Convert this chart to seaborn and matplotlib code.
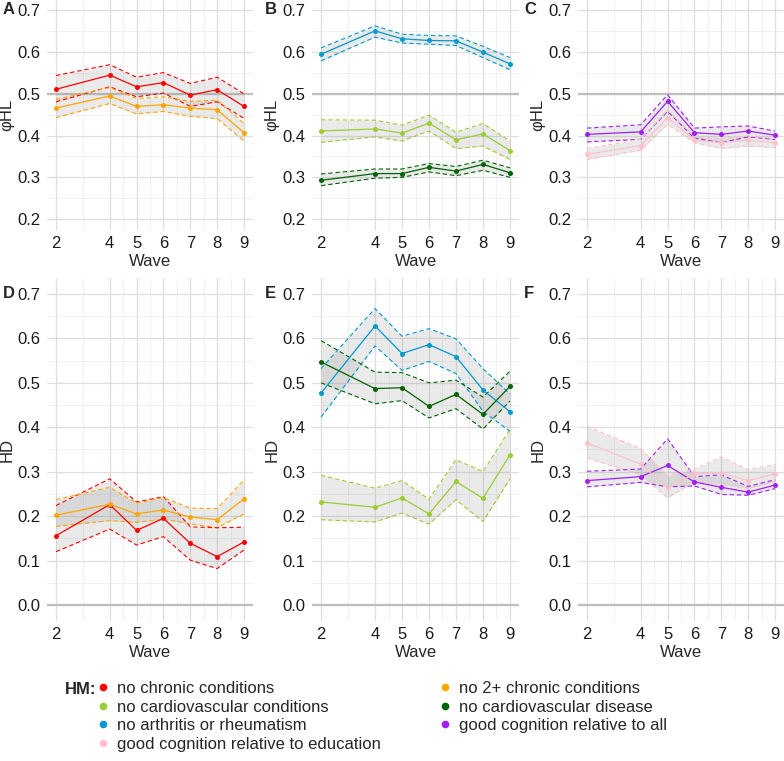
import matplotlib.pyplot as plt
from matplotlib.lines import Line2D
import pandas as pd
import seaborn as sns

waves = [2, 4, 5, 6, 7, 8, 9]

hm_names = [
    'no chronic conditions', 'no 2+ chronic conditions',
    'no cardiovascular conditions', 'no cardiovascular disease',
    'no arthritis or rheumatism', 'good cognition relative to all',
    'good cognition relative to education',
]
hm_colors = ['#FF0000', '#FFA500', '#9ACD32', '#006400', '#009ACD', '#A020F0', '#FFC0CB']

# phiHL (top row)
phi_nocc = [0.511, 0.545, 0.517, 0.527, 0.497, 0.510, 0.470]
phi_nocc_lo = [0.481, 0.517, 0.493, 0.502, 0.470, 0.481, 0.441]
phi_nocc_hi = [0.544, 0.570, 0.540, 0.551, 0.525, 0.540, 0.500]
phi_no2 = [0.466, 0.495, 0.470, 0.474, 0.466, 0.462, 0.407]
phi_no2_lo = [0.443, 0.477, 0.452, 0.458, 0.446, 0.441, 0.387]
phi_no2_hi = [0.487, 0.515, 0.489, 0.493, 0.482, 0.485, 0.429]
phi_arth = [0.595, 0.651, 0.632, 0.628, 0.627, 0.600, 0.572]
phi_arth_lo = [0.579, 0.636, 0.622, 0.619, 0.616, 0.587, 0.558]
phi_arth_hi = [0.610, 0.663, 0.643, 0.640, 0.639, 0.614, 0.587]
phi_cvc = [0.411, 0.416, 0.406, 0.430, 0.390, 0.404, 0.364]
phi_cvc_lo = [0.384, 0.397, 0.387, 0.411, 0.369, 0.375, 0.343]
phi_cvc_hi = [0.438, 0.437, 0.425, 0.449, 0.408, 0.429, 0.387]
phi_cvd = [0.293, 0.309, 0.309, 0.324, 0.315, 0.331, 0.311]
phi_cvd_lo = [0.280, 0.298, 0.300, 0.313, 0.304, 0.317, 0.300]
phi_cvd_hi = [0.308, 0.320, 0.320, 0.333, 0.326, 0.341, 0.323]
phi_cogall = [0.403, 0.409, 0.482, 0.407, 0.403, 0.411, 0.401]
phi_cogall_lo = [0.385, 0.391, 0.458, 0.394, 0.383, 0.397, 0.391]
phi_cogall_hi = [0.418, 0.426, 0.498, 0.418, 0.421, 0.423, 0.411]
phi_cogedu = [0.355, 0.376, 0.443, 0.389, 0.383, 0.389, 0.383]
phi_cogedu_lo = [0.343, 0.365, 0.427, 0.383, 0.369, 0.375, 0.371]
phi_cogedu_hi = [0.369, 0.391, 0.461, 0.397, 0.393, 0.399, 0.393]

# HD (bottom row)
hd_nocc = [0.156, 0.226, 0.168, 0.195, 0.139, 0.109, 0.142]
hd_nocc_lo = [0.120, 0.171, 0.135, 0.154, 0.101, 0.082, 0.124]
hd_nocc_hi = [0.224, 0.284, 0.232, 0.244, 0.176, 0.174, 0.175]
hd_no2 = [0.202, 0.227, 0.205, 0.214, 0.198, 0.192, 0.239]
hd_no2_lo = [0.177, 0.190, 0.186, 0.193, 0.183, 0.174, 0.205]
hd_no2_hi = [0.237, 0.265, 0.229, 0.242, 0.218, 0.217, 0.281]
hd_arth = [0.477, 0.628, 0.566, 0.586, 0.559, 0.484, 0.435]
hd_arth_lo = [0.423, 0.583, 0.528, 0.548, 0.521, 0.436, 0.391]
hd_arth_hi = [0.532, 0.667, 0.605, 0.622, 0.599, 0.532, 0.475]
hd_cvd = [0.547, 0.487, 0.489, 0.447, 0.474, 0.429, 0.492]
hd_cvd_lo = [0.500, 0.453, 0.460, 0.421, 0.442, 0.396, 0.459]
hd_cvd_hi = [0.595, 0.524, 0.523, 0.500, 0.506, 0.468, 0.526]
hd_cvc = [0.232, 0.220, 0.241, 0.205, 0.278, 0.240, 0.338]
hd_cvc_lo = [0.192, 0.187, 0.207, 0.182, 0.237, 0.188, 0.284]
hd_cvc_hi = [0.292, 0.263, 0.280, 0.238, 0.327, 0.300, 0.395]
hd_cogall = [0.280, 0.289, 0.314, 0.277, 0.265, 0.254, 0.270]
hd_cogall_lo = [0.266, 0.276, 0.266, 0.268, 0.249, 0.247, 0.262]
hd_cogall_hi = [0.301, 0.306, 0.374, 0.289, 0.293, 0.267, 0.282]
hd_cogedu = [0.365, 0.317, 0.264, 0.295, 0.297, 0.280, 0.295]
hd_cogedu_lo = [0.331, 0.293, 0.241, 0.278, 0.272, 0.263, 0.278]
hd_cogedu_hi = [0.402, 0.352, 0.290, 0.306, 0.333, 0.305, 0.316]


def to_frame(series):
    rows = []
    for name, est, lo, hi in series:
        for w, e, l, h in zip(waves, est, lo, hi):
            rows.append({'hm': name, 'wave': w, 'est': e, 'lo': l, 'hi': h})
    return pd.DataFrame(rows)


palette = dict(zip(hm_names, hm_colors))

panels = [
    ('A', 'φHL', 0, to_frame([
        (hm_names[0], phi_nocc, phi_nocc_lo, phi_nocc_hi),
        (hm_names[1], phi_no2, phi_no2_lo, phi_no2_hi)])),
    ('B', 'φHL', 0, to_frame([
        (hm_names[4], phi_arth, phi_arth_lo, phi_arth_hi),
        (hm_names[2], phi_cvc, phi_cvc_lo, phi_cvc_hi),
        (hm_names[3], phi_cvd, phi_cvd_lo, phi_cvd_hi)])),
    ('C', 'φHL', 0, to_frame([
        (hm_names[5], phi_cogall, phi_cogall_lo, phi_cogall_hi),
        (hm_names[6], phi_cogedu, phi_cogedu_lo, phi_cogedu_hi)])),
    ('D', 'HD', 1, to_frame([
        (hm_names[0], hd_nocc, hd_nocc_lo, hd_nocc_hi),
        (hm_names[1], hd_no2, hd_no2_lo, hd_no2_hi)])),
    ('E', 'HD', 1, to_frame([
        (hm_names[4], hd_arth, hd_arth_lo, hd_arth_hi),
        (hm_names[3], hd_cvd, hd_cvd_lo, hd_cvd_hi),
        (hm_names[2], hd_cvc, hd_cvc_lo, hd_cvc_hi)])),
    ('F', 'HD', 1, to_frame([
        (hm_names[5], hd_cogall, hd_cogall_lo, hd_cogall_hi),
        (hm_names[6], hd_cogedu, hd_cogedu_lo, hd_cogedu_hi)])),
]

sns.set_style('white')
plt.rcParams['font.family'] = ['Liberation Sans', 'DejaVu Sans']

W, H = 784, 761
fig = plt.figure(figsize=(W / 100, H / 100), dpi=100)

col_x = [(46.6, 253.4), (311.6, 519.4), (577.6, 784.4)]
row_y = [(0.0, 229.5), (278.4, 620.6)]
row_lim = [(0.175, 0.725), (-0.035, 0.735)]
row_ticks = [[0.2, 0.3, 0.4, 0.5, 0.6, 0.7], [0.0, 0.1, 0.2, 0.3, 0.4, 0.5, 0.6, 0.7]]
row_minor = [[0.25, 0.35, 0.45, 0.55, 0.65], [0.05, 0.15, 0.25, 0.35, 0.45, 0.55, 0.65]]
row_ref = [0.5, 0.0]

for i, (letter, ylabel, row, df) in enumerate(panels):
    x0, x1 = col_x[i % 3]
    y0, y1 = row_y[row]
    ax = fig.add_axes([x0 / W, 1 - y1 / H, (x1 - x0) / W, (y1 - y0) / H])

    ax.axhline(row_ref[row], color='#BEBEBE', lw=1.6, zorder=1)
    for name, g in df.groupby('hm', sort=False):
        ax.fill_between(g['wave'], g['lo'], g['hi'], color='#808080', alpha=0.16, lw=0, zorder=2)
    for col in ['lo', 'hi']:
        sns.lineplot(data=df, x='wave', y=col, hue='hm', palette=palette, ax=ax,
                     legend=False, lw=0.8, linestyle=(0, (4, 2.5)), zorder=3)
    sns.lineplot(data=df, x='wave', y='est', hue='hm', palette=palette, ax=ax,
                 legend=False, lw=0.9, marker='o', markersize=3.6, markeredgewidth=0, zorder=4)

    ax.set_xlim(1.65, 9.35)
    ax.set_ylim(*row_lim[row])
    ax.set_xticks(waves)
    ax.set_xticks([3, 4.5, 5.5, 6.5, 7.5, 8.5], minor=True)
    ax.set_yticks(row_ticks[row])
    ax.set_yticks(row_minor[row], minor=True)
    ax.set_yticklabels([f'{t:.1f}' for t in row_ticks[row]])
    ax.grid(which='major', color='#DEDEDE', lw=0.9, zorder=0)
    ax.grid(which='minor', color='#EBEBEB', lw=0.5, zorder=0)
    ax.set_axisbelow(True)
    for s in ax.spines.values():
        s.set_visible(False)
    ax.tick_params(which='both', length=0, labelsize=12, labelcolor='#1A1A1A', pad=4.5)
    ax.set_xlabel('Wave', fontsize=12, labelpad=2.5)
    ax.set_ylabel(ylabel, fontsize=12, labelpad=2)

    lx = [3, 265, 524][i % 3]
    ly = [9, 294][row]
    fig.text(lx / W, 1 - ly / H, letter, fontsize=12, fontweight='bold', va='center', ha='left')

# legend, two columns placed side by side
col1 = [0, 2, 4, 6]
col2 = [1, 3, 5]
for idx, xpos in [(col1, 96), (col2, 438)]:
    handles = [Line2D([], [], ls='', marker='o', markersize=5.5, markeredgewidth=0,
                      color=hm_colors[k], label=hm_names[k]) for k in idx]
    fig.legend(handles=handles, loc='upper left', bbox_to_anchor=(xpos / W, 1 - 681 / H),
               frameon=False, fontsize=12, handlelength=0.8, handletextpad=0.45,
               labelspacing=0.21, borderpad=0, borderaxespad=0)
fig.text(65 / W, 1 - 689 / H, 'HM:', fontsize=12, fontweight='bold', va='center', ha='left')

fig.savefig('out.png', dpi=100)
